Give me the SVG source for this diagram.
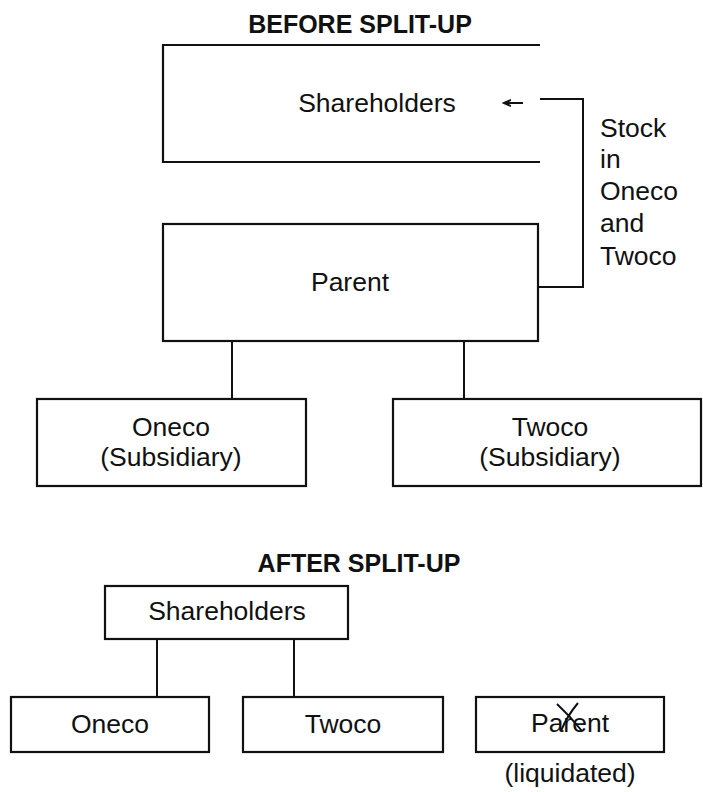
<svg xmlns="http://www.w3.org/2000/svg" width="703" height="792" viewBox="0 0 703 792">
<style>
.box{fill:none;stroke:#111;stroke-width:2.2}
.ln{fill:none;stroke:#111;stroke-width:2}
.t{font-family:"Liberation Sans",Arial,sans-serif;font-size:26.5px;fill:#111;text-anchor:middle}
.tl{font-family:"Liberation Sans",Arial,sans-serif;font-size:26.5px;fill:#111}
.h{font-family:"Liberation Sans",Arial,sans-serif;font-size:25px;font-weight:bold;fill:#111;text-anchor:middle}
</style>
<defs>
<marker id="ah" markerWidth="9" markerHeight="8" refX="7" refY="4" orient="auto" markerUnits="userSpaceOnUse">
<path d="M0,1 L7,4 L0,7" fill="none" stroke="#111" stroke-width="2"/>
</marker>
</defs>
<rect width="703" height="792" fill="#fff"/>
<text class="h" x="360" y="33">BEFORE SPLIT-UP</text>
<text class="h" x="359" y="572">AFTER SPLIT-UP</text>

<g id="connectors">
<path class="ln" d="M540,99 H583 V287 H538"/>
<line class="ln" x1="523" y1="103" x2="504" y2="103" stroke-width="2" marker-end="url(#ah)"/>
<line class="ln" x1="232" y1="341" x2="232" y2="399"/>
<line class="ln" x1="464" y1="341" x2="464" y2="399"/>
<line class="ln" x1="157" y1="639" x2="157" y2="697"/>
<line class="ln" x1="294" y1="639" x2="294" y2="697"/>
</g>
<text class="tl" x="600" y="137">Stock</text>
<text class="tl" x="600" y="168">in</text>
<text class="tl" x="600" y="200">Oneco</text>
<text class="tl" x="600" y="232">and</text>
<text class="tl" x="600" y="265">Twoco</text>

<g id="shareholders-before">
<path class="box" d="M540,45 H163 V162 H540"/>
<text class="t" x="377" y="112">Shareholders</text>
</g>
<g id="parent-before">
<rect class="box" x="163" y="224" width="375" height="117"/>
<text class="t" x="350" y="291">Parent</text>
</g>
<g id="oneco-before">
<rect class="box" x="37" y="399" width="269" height="87"/>
<text class="t" x="171" y="436">Oneco</text>
<text class="t" x="171" y="466">(Subsidiary)</text>
</g>
<g id="twoco-before">
<rect class="box" x="393" y="399" width="308" height="87"/>
<text class="t" x="550" y="436">Twoco</text>
<text class="t" x="550" y="466">(Subsidiary)</text>
</g>

<g id="shareholders-after">
<rect class="box" x="105" y="586" width="243" height="53"/>
<text class="t" x="227" y="620">Shareholders</text>
</g>
<g id="oneco-after">
<rect class="box" x="11" y="697" width="198" height="55"/>
<text class="t" x="110" y="733">Oneco</text>
</g>
<g id="twoco-after">
<rect class="box" x="243" y="697" width="200" height="55"/>
<text class="t" x="343" y="733">Twoco</text>
</g>
<g id="parent-after">
<rect class="box" x="476" y="697" width="188" height="55"/>
<text class="t" x="570" y="732">Parent</text>
<path class="ln" stroke-width="2.6" d="M557,704 Q570,716 582,731 M578,703 Q567,716 561,731"/>
<text class="t" x="570" y="782">(liquidated)</text>
</g>
</svg>
